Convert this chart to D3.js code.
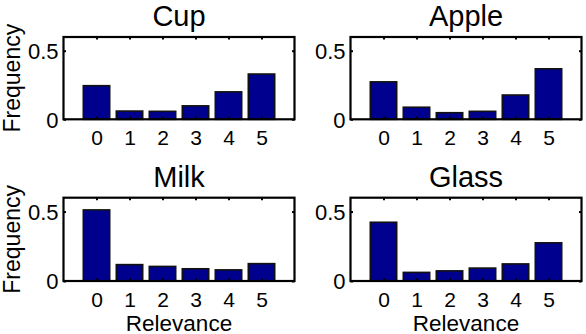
<!DOCTYPE html>
<html>
<head>
<meta charset="utf-8">
<script src="https://cdn.jsdelivr.net/npm/d3@7"></script>
<style>
  body { margin: 0; background: #fff; }
  svg text { font-family: "Liberation Sans", Arial, Helvetica, sans-serif; fill: #000; }
</style>
</head>
<body>
<svg id="chart" width="586" height="334"></svg>
<script>
const categories = [0, 1, 2, 3, 4, 5];
const titles = ["Cup", "Apple", "Milk", "Glass"];
const cupValues   = [0.245, 0.060, 0.058, 0.098, 0.200, 0.330];
const appleValues = [0.273, 0.088, 0.048, 0.058, 0.177, 0.368];
const milkValues  = [0.512, 0.118, 0.105, 0.088, 0.080, 0.125];
const glassValues = [0.423, 0.062, 0.073, 0.093, 0.123, 0.275];
const yTicks = [0, 0.5];
const yDomain = [0, 0.6];
const xDomain = [-1, 6];
const xLabel = "Relevance";
const yLabel = "Frequency";

const seriesList = [cupValues, appleValues, milkValues, glassValues];

const svg = d3.select("#chart");

// panel layout
const colX = [[63.5, 294.5], [350.5, 581.5]];
const rowY = [[37, 119.3], [197.7, 281]];

seriesList.forEach((values, i) => {
  const col = i % 2, row = Math.floor(i / 2);
  const [x0, x1] = colX[col];
  const [y0, y1] = rowY[row];
  const x = d3.scaleLinear().domain(xDomain).range([x0, x1]);
  const y = d3.scaleLinear().domain(yDomain).range([y1, y0]);
  const bw = (x(1) - x(0)) * 0.8;
  const g = svg.append("g");

  // bars
  g.selectAll("rect.bar").data(categories).join("rect")
    .attr("class", "bar")
    .attr("x", d => x(d) - bw / 2)
    .attr("width", bw)
    .attr("y", (d, k) => y(values[k]))
    .attr("height", (d, k) => y(0) - y(values[k]))
    .attr("fill", "#00008f")
    .attr("stroke", "#111")
    .attr("stroke-width", 1.6);

  // bottom axis (ticks inside)
  const xa = d3.axisBottom(x).tickValues(categories).tickSize(-2.5).tickPadding(9).tickFormat(d3.format("d"));
  const gx = g.append("g").attr("transform", `translate(0,${y1})`).call(xa);
  gx.select(".domain").remove();
  gx.selectAll("line").attr("stroke", "#000").attr("stroke-width", 2);
  gx.selectAll("text").attr("font-size", 21).attr("dy", "0.71em").attr("y", 11);

  // top mirrored ticks
  const xt = d3.axisTop(x).tickValues(categories).tickSize(-2.5).tickFormat("");
  const gxt = g.append("g").attr("transform", `translate(0,${y0})`).call(xt);
  gxt.select(".domain").remove();
  gxt.selectAll("line").attr("stroke", "#000").attr("stroke-width", 2);

  // left axis
  const ya = d3.axisLeft(y).tickValues(yTicks).tickSize(-2.5).tickPadding(5).tickFormat(d => d === 0 ? "0" : String(d));
  const gy = g.append("g").attr("transform", `translate(${x0},0)`).call(ya);
  gy.select(".domain").remove();
  gy.selectAll("line").attr("stroke", "#000").attr("stroke-width", 2);
  gy.selectAll("text").attr("font-size", 22).attr("dy", "0.36em").attr("x", -5);

  // right mirrored ticks
  const yr = d3.axisRight(y).tickValues(yTicks).tickSize(-2.5).tickFormat("");
  const gyr = g.append("g").attr("transform", `translate(${x1},0)`).call(yr);
  gyr.select(".domain").remove();
  gyr.selectAll("line").attr("stroke", "#000").attr("stroke-width", 2);

  // box
  g.append("rect")
    .attr("x", x0).attr("y", y0)
    .attr("width", x1 - x0).attr("height", y1 - y0)
    .attr("fill", "none").attr("stroke", "#000").attr("stroke-width", 2.2);

  // title
  g.append("text")
    .attr("x", (x0 + x1) / 2).attr("y", y0 - 11)
    .attr("text-anchor", "middle").attr("font-size", 29)
    .text(titles[i]);

  if (col === 0) {
    g.append("text")
      .attr("transform", `translate(19.5,${(y0 + y1) / 2}) rotate(-90)`)
      .attr("text-anchor", "middle").attr("font-size", 23)
      .text(yLabel);
  }
  if (row === 1) {
    g.append("text")
      .attr("x", (x0 + x1) / 2).attr("y", 330.5)
      .attr("text-anchor", "middle").attr("font-size", 22.5)
      .text(xLabel);
  }
});
</script>
</body>
</html>
